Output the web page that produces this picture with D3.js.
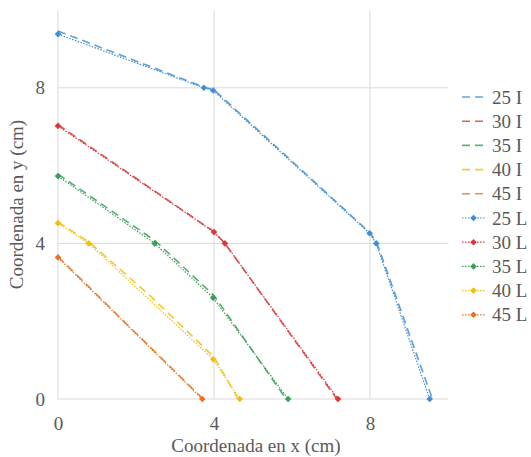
<!DOCTYPE html>
<html>
<head>
<meta charset="utf-8">
<script src="https://cdn.jsdelivr.net/npm/d3@7"></script>
<style>
  body { margin: 0; background: #fff; }
  svg { display: block; }
  svg text { font-family: "Liberation Serif", "DejaVu Serif", "Times New Roman", serif; }
</style>
</head>
<body>
<div id="chart"></div>
<script>
// series names and colours (same order as legend)
const angles = ["25", "30", "35", "40", "45"];
const colors = ["#3f8ed3", "#d83a3c", "#3c9f57", "#f0c010", "#e8731f"];

// "I" series (dashed, no markers)
const xI25 = [0, 3.76, 4.0, 8.0, 8.18, 9.6];
const yI25 = [9.46, 8.01, 7.95, 4.27, 4.0, 0];
const xI30 = [0, 4.0, 4.28, 7.15];
const yI30 = [7.05, 4.3, 4.0, 0];
const xI35 = [0, 2.5, 4.0, 5.85];
const yI35 = [5.78, 4.06, 2.66, 0];
const xI40 = [0, 0.8, 2.4, 4.0, 4.62];
const yI40 = [4.55, 4.03, 2.62, 1.08, 0];
const xI45 = [0, 3.72];
const yI45 = [3.66, 0];

// "L" series (dotted with markers)
const xL25 = [0, 3.74, 3.98, 7.99, 8.16, 9.53];
const yL25 = [9.38, 8.0, 7.93, 4.26, 4.0, 0];
const xL30 = [0, 4.0, 4.28, 7.18];
const yL30 = [7.02, 4.29, 4.0, 0];
const xL35 = [0, 2.48, 3.98, 5.9];
const yL35 = [5.73, 4.0, 2.6, 0];
const xL40 = [0, 0.79, 3.98, 4.66];
const yL40 = [4.52, 4.0, 1.02, 0];
const xL45 = [0, 3.7];
const yL45 = [3.64, 0];

const ticks = [0, 4, 8];
const xTitle = "Coordenada en x (cm)";
const yTitle = "Coordenada en y (cm)";

const zip = (xs, ys) => xs.map((x, i) => ({ x: x, y: ys[i] }));
const seriesI = [[xI25, yI25], [xI30, yI30], [xI35, yI35], [xI40, yI40], [xI45, yI45]]
    .map((s, i) => ({ name: angles[i] + " I", color: colors[i], pts: zip(s[0], s[1]) }));
const seriesL = [[xL25, yL25], [xL30, yL30], [xL35, yL35], [xL40, yL40], [xL45, yL45]]
    .map((s, i) => ({ name: angles[i] + " L", color: colors[i], pts: zip(s[0], s[1]) }));

const W = 531, H = 457;
const margin = { top: 10, right: 83, bottom: 58, left: 58 };
const width = W - margin.left - margin.right;
const height = H - margin.top - margin.bottom;
const textColor = "#595959";

const svg = d3.select("#chart").append("svg")
    .attr("width", W)
    .attr("height", H);

const g = svg.append("g")
    .attr("transform", "translate(" + margin.left + "," + margin.top + ")");

const xScale = d3.scaleLinear().domain([0, 10]).range([0, width]);
const yScale = d3.scaleLinear().domain([0, 10]).range([height, 0]);

// gridlines
g.append("g").selectAll("line.v").data(ticks).join("line")
    .attr("x1", d => xScale(d)).attr("x2", d => xScale(d))
    .attr("y1", 0).attr("y2", height)
    .attr("stroke", "#d9d9d9").attr("stroke-width", 1);
g.append("g").selectAll("line.h").data(ticks).join("line")
    .attr("x1", 0).attr("x2", width)
    .attr("y1", d => yScale(d)).attr("y2", d => yScale(d))
    .attr("stroke", "#d9d9d9").attr("stroke-width", 1);

// axes (labels only)
const xAxis = g.append("g")
    .attr("transform", "translate(0," + height + ")")
    .call(d3.axisBottom(xScale).tickValues(ticks).tickSize(0).tickPadding(18));
const yAxis = g.append("g")
    .call(d3.axisLeft(yScale).tickValues(ticks).tickSize(0).tickPadding(13));
[xAxis, yAxis].forEach(a => {
    a.attr("font-family", null).attr("font-size", null);
    a.select(".domain").remove();
    a.selectAll("text")
        .attr("fill", textColor)
        .style("font-size", "19px");
});

// axis titles
svg.append("text")
    .attr("x", 256)
    .attr("y", 452)
    .attr("text-anchor", "middle")
    .attr("fill", textColor)
    .style("font-size", "19px")
    .text(xTitle);
svg.append("text")
    .attr("transform", "translate(23," + (margin.top + height / 2) + ") rotate(-90)")
    .attr("text-anchor", "middle")
    .attr("fill", textColor)
    .style("font-size", "19px")
    .text(yTitle);

const line = d3.line()
    .x(d => xScale(d.x))
    .y(d => yScale(d.y));

const diamond = d3.symbol().type(d3.symbolDiamond2).size(28);

// I lines
g.selectAll("path.lineI").data(seriesI).join("path")
    .attr("class", "lineI")
    .attr("fill", "none")
    .attr("stroke", d => d.color)
    .attr("stroke-width", 1.6)
    .attr("stroke-dasharray", "8,5")
    .attr("opacity", 0.85)
    .attr("d", d => line(d.pts));

// L lines
g.selectAll("path.lineL").data(seriesL).join("path")
    .attr("class", "lineL")
    .attr("fill", "none")
    .attr("stroke", d => d.color)
    .attr("stroke-width", 1.2)
    .attr("stroke-dasharray", "1.5,1.5")
    .attr("d", d => line(d.pts));

seriesL.forEach(s => {
    g.append("g").selectAll("path").data(s.pts).join("path")
        .attr("d", diamond)
        .attr("transform", d => "translate(" + xScale(d.x) + "," + yScale(d.y) + ")")
        .attr("fill", s.color);
});

// legend
const legend = svg.append("g");
const all = seriesI.map(s => Object.assign({ kind: "I" }, s))
    .concat(seriesL.map(s => Object.assign({ kind: "L" }, s)));
const rows = legend.selectAll("g").data(all).join("g")
    .attr("transform", (d, i) => "translate(462," + (97 + i * 24.2) + ")");
rows.append("line")
    .attr("x1", 0).attr("x2", 23)
    .attr("stroke", d => d.color)
    .attr("stroke-width", d => d.kind === "I" ? 1.6 : 1.2)
    .attr("stroke-dasharray", d => d.kind === "I" ? "8,5" : "1.5,1.5")
    .attr("opacity", d => d.kind === "I" ? 0.8 : 1);
rows.filter(d => d.kind === "L").append("path")
    .attr("d", diamond)
    .attr("transform", "translate(11.5,0)")
    .attr("fill", d => d.color);
rows.append("text")
    .attr("x", 30)
    .attr("dy", "0.35em")
    .attr("fill", textColor)
    .style("font-size", "19px")
    .text(d => d.name);
</script>
</body>
</html>
